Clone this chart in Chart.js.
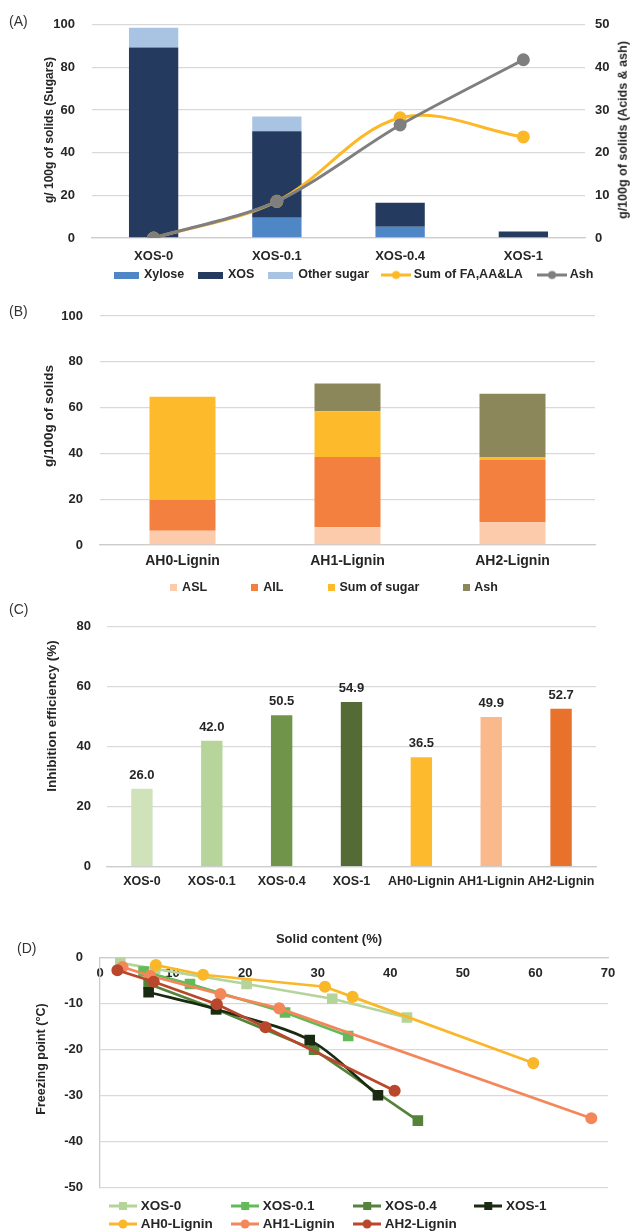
<!DOCTYPE html>
<html>
<head>
<meta charset="utf-8">
<title>Figure</title>
<script src="https://cdn.jsdelivr.net/npm/chart.js@4.4.1/dist/chart.umd.min.js"></script>
<style>
  html, body { margin:0; padding:0; background:#ffffff; }
  body { position:relative; width:633px; height:1231px; overflow:hidden; }
  canvas { position:absolute; left:0; }
  .panel { position:absolute; left:9px; font-family:"Liberation Sans", Arial, sans-serif; font-size:14px; color:#333; line-height:14px; }
  .vt, .ht { position:absolute; font-family:"Liberation Sans", Arial, sans-serif; font-weight:bold; color:#262626; white-space:nowrap; line-height:1; }
  .vt { transform: translate(-50%,-50%) rotate(-90deg); }
  .ht { transform: translate(-50%,-50%); }
</style>
</head>
<body>
<canvas id="chartA" width="633" height="290" style="top:0px"></canvas>
<canvas id="chartB" width="633" height="313" style="top:290px"></canvas>
<canvas id="chartC" width="633" height="297" style="top:603px"></canvas>
<canvas id="chartD" width="633" height="331" style="top:900px"></canvas>

<div class="panel" style="top:14px">(A)</div>
<div class="panel" style="top:304px">(B)</div>
<div class="panel" style="top:602px">(C)</div>
<div class="panel" style="left:17px;top:941px">(D)</div>
<div class="vt" style="left:48.5px;top:130px;font-size:12px">g/ 100g of solids (Sugars)</div>
<div class="vt" style="left:623px;top:130px;font-size:12.5px">g/100g of solids (Acids &amp; ash)</div>
<div class="vt" style="left:48.5px;top:416px;font-size:13.5px">g/100g of solids</div>
<div class="vt" style="left:52px;top:716px;font-size:13.5px">Inhibition efficiency (%)</div>
<div class="vt" style="left:40.5px;top:1059px;font-size:12.5px">Freezing point (°C)</div>
<div class="ht" style="left:329px;top:938px;font-size:13px">Solid content (%)</div>

<script>
// ---------------- DATA ----------------
// Panel A
const catsA = ['XOS-0', 'XOS-0.1', 'XOS-0.4', 'XOS-1'];
const xyloseA = [0, 9.5, 5.3, 0];
const xosA = [89.4, 40.6, 11.2, 3.0];
const otherSugarA = [9.2, 6.9, 0, 0];
const acidsA = [0, 8.6, 28.2, 23.7];
const ashA = [0, 8.6, 26.5, 41.8];

// Panel B
const catsB = ['AH0-Lignin', 'AH1-Lignin', 'AH2-Lignin'];
const aslB = [6.2, 7.8, 10.0];
const ailB = [13.4, 30.6, 27.1];
const sugarB = [45.1, 20.0, 1.1];
const ashB = [0, 12.1, 27.9];

// Panel C
const catsC = ['XOS-0', 'XOS-0.1', 'XOS-0.4', 'XOS-1', 'AH0-Lignin', 'AH1-Lignin', 'AH2-Lignin'];
const inhibC = [26.0, 42.0, 50.5, 54.9, 36.5, 49.9, 52.7];

// Panel D (solid content %, freezing point °C)
const xos0X = [2.8, 7.6, 20.2, 32.0, 42.3];
const xos0Y = [-1.2, -2.5, -5.8, -9.0, -13.1];
const xos01X = [6.0, 12.4, 25.5, 34.2];
const xos01Y = [-3.1, -5.8, -12.0, -17.1];
const xos04X = [6.7, 16.0, 29.5, 43.8];
const xos04Y = [-5.8, -11.3, -20.1, -35.5];
const xos1X = [6.7, 16.0, 28.9, 38.3];
const xos1Y = [-7.6, -11.3, -18.0, -30.0];
const ah0X = [7.7, 14.2, 31.0, 34.8, 59.7];
const ah0Y = [-1.7, -3.8, -6.4, -8.6, -23.0];
const ah1X = [3.1, 6.9, 16.6, 24.7, 67.7];
const ah1Y = [-2.1, -4.0, -8.0, -11.1, -35.0];
const ah2X = [2.4, 7.4, 16.1, 22.8, 40.6];
const ah2Y = [-2.8, -5.3, -10.2, -15.2, -29.0];

// ---------------- STYLE ----------------
const FONT = "'Liberation Sans', Arial, Helvetica, sans-serif";
const TXT = '#262626';
const GRID = '#d9d9d9';
const AXIS = '#cccccc';

Chart.defaults.font.family = FONT;
Chart.defaults.font.weight = 'bold';
Chart.defaults.font.size = 13;
Chart.defaults.color = TXT;
Chart.defaults.plugins.tooltip.enabled = false;

const mctx = document.createElement('canvas').getContext('2d');
function textWidth(t, font) { mctx.font = font; return mctx.measureText(t).width; }
function padTo(text, target, font) {
  const base = textWidth('x', font);
  let fill = '\u200A';
  if (textWidth('x' + fill, font) - base < 0.3) fill = '\u2009';
  if (textWidth('x' + fill, font) - base < 0.3) fill = ' ';
  let t = text, n = 0;
  while (n < 600 && textWidth(t + fill, font) <= target) { t += fill; n++; }
  return t;
}
function rectIcon(color, w, h) {
  const c = document.createElement('canvas'); c.width = w; c.height = h;
  const g = c.getContext('2d'); g.fillStyle = color; g.fillRect(0, 0, w, h);
  return c;
}
function lineIcon(color, marker, w, h, lw, ms) {
  const c = document.createElement('canvas'); c.width = w; c.height = h;
  const g = c.getContext('2d');
  g.strokeStyle = color; g.lineWidth = lw;
  g.beginPath(); g.moveTo(0, h / 2); g.lineTo(w, h / 2); g.stroke();
  g.fillStyle = color;
  if (marker === 'circle') { g.beginPath(); g.arc(w / 2, h / 2, ms, 0, 2 * Math.PI); g.fill(); }
  else { g.fillRect(w / 2 - ms, h / 2 - ms, 2 * ms, 2 * ms); }
  return c;
}
const blankIcon = document.createElement('canvas'); blankIcon.width = 1; blankIcon.height = 1;

function legendOptions(cfg) {
  const font = `bold ${cfg.fontSize}px ${FONT}`;
  return {
    display: true, position: 'bottom', align: 'start', fullSize: true, maxHeight: cfg.maxHeight,
    title: { display: true, text: ' ', font: { size: 1 }, padding: { top: cfg.titlePad, bottom: 0 } },
    labels: {
      usePointStyle: true, pointStyleWidth: cfg.boxW, padding: cfg.pad, color: TXT,
      font: { family: FONT, size: cfg.fontSize, weight: 'bold' },
      generateLabels: () => cfg.items.map(it => {
        const avail = it.col == null ? null : it.col - cfg.pad - cfg.boxW - cfg.fontSize / 2;
        return {
          text: avail == null ? it.label : padTo(it.label, avail, font),
          pointStyle: it.icon || blankIcon,
          fillStyle: 'rgba(0,0,0,0)', strokeStyle: 'rgba(0,0,0,0)', lineWidth: 0,
          fontColor: TXT, hidden: false, datasetIndex: it.datasetIndex
        };
      })
    }
  };
}

// ---------------- PANEL A ----------------
const colA = { xylose: '#4F86C6', xos: '#243A5E', other: '#A9C4E2', acids: '#FDB827', ash: '#7F7F7F' };
new Chart(document.getElementById('chartA'), {
  type: 'bar',
  data: {
    labels: catsA,
    datasets: [
      { label: 'Xylose', data: xyloseA, backgroundColor: colA.xylose, yAxisID: 'y', order: 3 },
      { label: 'XOS', data: xosA, backgroundColor: colA.xos, yAxisID: 'y', order: 3 },
      { label: 'Other sugar', data: otherSugarA, backgroundColor: colA.other, yAxisID: 'y', order: 3 },
      { type: 'line', label: 'Sum of FA,AA&LA', data: acidsA, yAxisID: 'y1', borderColor: colA.acids, backgroundColor: colA.acids,
        pointBackgroundColor: colA.acids, pointBorderColor: colA.acids, borderWidth: 3, pointRadius: 5, tension: 0.35, order: 2 },
      { type: 'line', label: 'Ash', data: ashA, yAxisID: 'y1', borderColor: colA.ash, backgroundColor: colA.ash,
        pointBackgroundColor: colA.ash, pointBorderColor: colA.ash, borderWidth: 3, pointRadius: 5, tension: 0.3, order: 1 }
    ]
  },
  options: {
    responsive: false, animation: false, devicePixelRatio: 1,
    layout: { padding: { top: 21, left: 0, right: 0, bottom: 0 } },
    datasets: { bar: { barPercentage: 0.4, categoryPercentage: 1 } },
    scales: {
      x: { stacked: true, grid: { display: false, drawTicks: false }, border: { display: true, color: AXIS, width: 1.3 },
           ticks: { padding: 10.2, font: { size: 13 }, maxRotation: 0, autoSkip: false },
           afterFit(s) { s.height = 25; } },
      y: { stacked: true, position: 'left', min: 0, max: 100, ticks: { stepSize: 20, padding: 17, font: { size: 13 } },
           grid: { color: GRID, lineWidth: 1.3, drawTicks: false }, border: { display: false },
           afterFit(s) { s.width = 92; } },
      y1: { position: 'right', min: 0, max: 50, ticks: { stepSize: 10, padding: 10, font: { size: 13 } },
            grid: { display: false, drawTicks: false }, border: { display: false },
            afterFit(s) { s.width = 48; } }
    },
    plugins: {
      legend: legendOptions({
        fontSize: 12.5, boxW: 23, pad: 2, titlePad: 2.55, maxHeight: 27,
        items: [
          { label: '', col: 113 },
          { label: 'Xylose', col: 85, icon: rectIcon(colA.xylose, 25, 7), datasetIndex: 0 },
          { label: 'XOS', col: 71, icon: rectIcon(colA.xos, 25, 7), datasetIndex: 1 },
          { label: 'Other sugar', col: 116.5, icon: rectIcon(colA.other, 25, 7), datasetIndex: 2 },
          { label: 'Sum of FA,AA&LA', col: 156, icon: lineIcon(colA.acids, 'circle', 30, 11, 3, 4), datasetIndex: 3 },
          { label: 'Ash', col: null, icon: lineIcon(colA.ash, 'circle', 30, 11, 3, 4), datasetIndex: 4 }
        ]
      })
    }
  }
});

// ---------------- PANEL B ----------------
const colB = { asl: '#FBCBAC', ail: '#F48040', sugar: '#FDBB2C', ash: '#8B875B' };
new Chart(document.getElementById('chartB'), {
  type: 'bar',
  data: {
    labels: catsB,
    datasets: [
      { label: 'ASL', data: aslB, backgroundColor: colB.asl },
      { label: 'AIL', data: ailB, backgroundColor: colB.ail },
      { label: 'Sum of sugar', data: sugarB, backgroundColor: colB.sugar },
      { label: 'Ash', data: ashB, backgroundColor: colB.ash }
    ]
  },
  options: {
    responsive: false, animation: false, devicePixelRatio: 1,
    layout: { padding: { top: 26, left: 0, right: 38, bottom: 0 } },
    datasets: { bar: { barPercentage: 0.4, categoryPercentage: 1 } },
    scales: {
      x: { stacked: true, grid: { display: false, drawTicks: false }, border: { display: true, color: AXIS, width: 1.3 },
           ticks: { padding: 7.6, font: { size: 14 }, maxRotation: 0, autoSkip: false },
           afterFit(s) { s.height = 25; } },
      y: { stacked: true, min: 0, max: 100, ticks: { stepSize: 20, padding: 17, font: { size: 13 } },
           grid: { color: GRID, lineWidth: 1.3, drawTicks: false }, border: { display: false },
           afterFit(s) { s.width = 100; } }
    },
    plugins: {
      legend: legendOptions({
        fontSize: 12.5, boxW: 4, pad: 2, titlePad: 8.25, maxHeight: 33,
        items: [
          { label: '', col: 170.2 },
          { label: 'ASL', col: 82, icon: rectIcon(colB.asl, 7, 7), datasetIndex: 0 },
          { label: 'AIL', col: 76.6, icon: rectIcon(colB.ail, 7, 7), datasetIndex: 1 },
          { label: 'Sum of sugar', col: 135.7, icon: rectIcon(colB.sugar, 7, 7), datasetIndex: 2 },
          { label: 'Ash', col: null, icon: rectIcon(colB.ash, 7, 7), datasetIndex: 3 }
        ]
      })
    }
  }
});

// ---------------- PANEL C ----------------
const colorsC = ['#D0E2BA', '#B7D49A', '#71944B', '#546B36', '#FDBA2C', '#F9B98A', '#E8722B'];
const valueLabels = {
  id: 'valueLabels',
  afterDatasetsDraw(chart) {
    const ctx = chart.ctx;
    const meta = chart.getDatasetMeta(0);
    ctx.save();
    ctx.font = `bold 13px ${FONT}`;
    ctx.fillStyle = TXT;
    ctx.textAlign = 'center';
    ctx.textBaseline = 'middle';
    meta.data.forEach((bar, i) => {
      ctx.fillText(chart.data.datasets[0].data[i].toFixed(1), bar.x, bar.y - 13.5);
    });
    ctx.restore();
  }
};
new Chart(document.getElementById('chartC'), {
  type: 'bar',
  data: {
    labels: catsC,
    datasets: [{ label: 'Inhibition efficiency', data: inhibC, backgroundColor: colorsC }]
  },
  options: {
    responsive: false, animation: false, devicePixelRatio: 1,
    layout: { padding: { top: 14, left: 0, right: 37, bottom: 0 } },
    datasets: { bar: { barPercentage: 0.306, categoryPercentage: 1 } },
    scales: {
      x: { grid: { display: false, drawTicks: false }, border: { display: true, color: AXIS, width: 1.3 },
           ticks: { padding: 7.8, font: { size: 12.5 }, maxRotation: 0, minRotation: 0, autoSkip: false },
           afterFit(s) { s.height = 33.3; } },
      y: { min: 0, max: 80, ticks: { stepSize: 20, padding: 16, font: { size: 13 } },
           grid: { color: GRID, lineWidth: 1.3, drawTicks: false }, border: { display: false },
           afterFit(s) { s.width = 107; } }
    },
    plugins: { legend: { display: false } }
  },
  plugins: [valueLabels]
});

// ---------------- PANEL D ----------------
function ptsD(xs, ys) { return xs.map((x, i) => ({ x: x, y: ys[i] })); }
const seriesD = [
  { label: 'XOS-0', xs: xos0X, ys: xos0Y, color: '#B5D49A', marker: 'rect', tension: 0 },
  { label: 'XOS-0.1', xs: xos01X, ys: xos01Y, color: '#62BA58', marker: 'rect', tension: 0 },
  { label: 'XOS-0.4', xs: xos04X, ys: xos04Y, color: '#55833A', marker: 'rect', tension: 0 },
  { label: 'XOS-1', xs: xos1X, ys: xos1Y, color: '#1B2B13', marker: 'rect', tension: 0.3 },
  { label: 'AH0-Lignin', xs: ah0X, ys: ah0Y, color: '#FBB72A', marker: 'circle', tension: 0 },
  { label: 'AH1-Lignin', xs: ah1X, ys: ah1Y, color: '#F4875A', marker: 'circle', tension: 0 },
  { label: 'AH2-Lignin', xs: ah2X, ys: ah2Y, color: '#B8472C', marker: 'circle', tension: 0 }
];
const iconsD = seriesD.map(s => lineIcon(s.color, s.marker, 28, 10, 3, s.marker === 'rect' ? 4 : 4.5));
new Chart(document.getElementById('chartD'), {
  type: 'line',
  data: {
    datasets: seriesD.map((s, i) => ({
      label: s.label, data: ptsD(s.xs, s.ys),
      borderColor: s.color, backgroundColor: s.color,
      pointBackgroundColor: s.color, pointBorderColor: s.color,
      pointStyle: s.marker, pointRadius: s.marker === 'rect' ? 5.6 : 4.7,
      borderWidth: 2.7, tension: s.tension, order: seriesD.length - 1 - i
    }))
  },
  options: {
    responsive: false, animation: false, devicePixelRatio: 1,
    layout: { padding: { top: 0, left: 0, right: 25, bottom: 0 } },
    scales: {
      x: { type: 'linear', position: 'top', min: 0, max: 70,
           ticks: { stepSize: 10, mirror: true, padding: 7.9, font: { size: 13 }, maxRotation: 0 },
           grid: { display: false }, border: { display: true, color: AXIS, width: 1.3 },
           afterFit(s) { s.height = 57.3; } },
      y: { type: 'linear', min: -50, max: 0,
           ticks: { stepSize: 10, padding: 17, font: { size: 13 } },
           grid: { color: GRID, lineWidth: 1.3, drawTicks: false }, border: { display: true, color: AXIS, width: 1.3 },
           afterFit(s) { s.width = 100; } }
    },
    plugins: {
      legend: legendOptions({
        fontSize: 13.5, boxW: 21.9, pad: 4.5, titlePad: 6.25, maxHeight: 43.7,
        items: [
          { label: '', col: 108.55 },
          { label: 'XOS-0', col: 122.7, icon: iconsD[0], datasetIndex: 0 },
          { label: 'XOS-0.1', col: 122.3, icon: iconsD[1], datasetIndex: 1 },
          { label: 'XOS-0.4', col: 121.7, icon: iconsD[2], datasetIndex: 2 },
          { label: 'XOS-1', col: null, icon: iconsD[3], datasetIndex: 3 },
          { label: '', col: 108.55 },
          { label: 'AH0-Lignin', col: 122.7, icon: iconsD[4], datasetIndex: 4 },
          { label: 'AH1-Lignin', col: 122.3, icon: iconsD[5], datasetIndex: 5 },
          { label: 'AH2-Lignin', col: null, icon: iconsD[6], datasetIndex: 6 }
        ]
      })
    }
  }
});
</script>
</body>
</html>
